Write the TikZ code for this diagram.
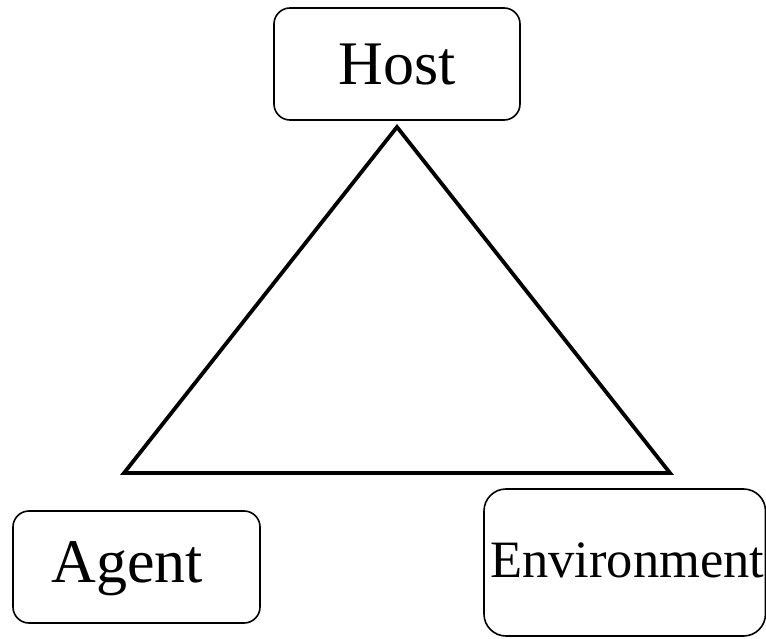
\documentclass[tikz,border=0pt]{standalone}
\usepackage{fontspec}
\setmainfont{Liberation Serif}
\begin{document}
\begin{tikzpicture}[x=1pt,y=-1pt,
  box/.style={draw=black,line width=1.6pt,rounded corners=16pt},
  lbl/.style={inner sep=0pt,anchor=base,font=\fontsize{62}{70}\selectfont},
  lblsmall/.style={inner sep=0pt,anchor=base west,font=\fontsize{52.5}{60}\selectfont},
  tri/.style={draw=black,line width=3.8pt,line join=miter}]
\useasboundingbox (0,0) rectangle (766,639);
\clip (0,0) rectangle (766,639);
\draw[box] (274,8) rectangle (520,120);
\node[lbl] (host) at (397.5,85) {Host};
\draw[box] (13,511) rectangle (260,623);
\node[lbl] (agent) at (127,582) {Agent};
\draw[box,rounded corners=22pt] (484,489) rectangle (765.5,636);
\node[lblsmall] (env) at (490,577) {Environment};
\coordinate (apex) at (397,127);
\coordinate (bl) at (124,473);
\coordinate (br) at (670,473);
\draw[tri] (apex) -- (br) -- (bl) -- cycle;
\end{tikzpicture}
\end{document}
